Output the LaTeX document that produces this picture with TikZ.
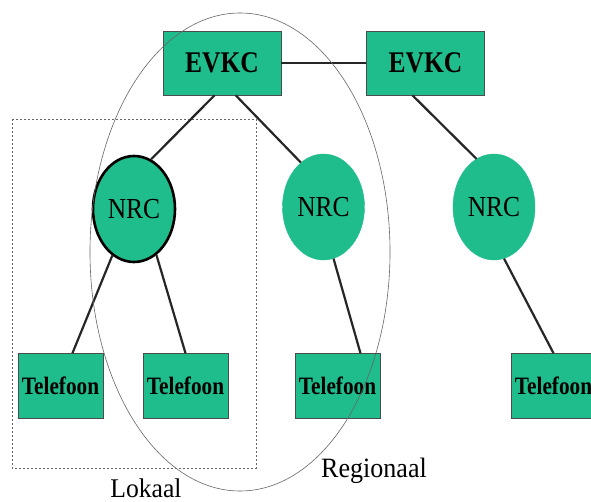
\documentclass[tikz,border=0pt]{standalone}
\usepackage{fontspec}
\setmainfont{Liberation Serif}
\usetikzlibrary{shapes.geometric}
\definecolor{nodegreen}{RGB}{32,189,140}
\newcommand{\smaltekst}[2]{\scalebox{#1}[1]{#2}}
\tikzset{
  centrale/.style={draw=black!70,line width=0.6pt,fill=nodegreen,minimum width=118pt,minimum height=64pt,inner sep=0pt,font=\fontsize{30}{30}\selectfont\bfseries},
  toestel/.style={draw=black!70,line width=0.6pt,fill=nodegreen,minimum width=85pt,minimum height=65pt,inner sep=0pt,font=\fontsize{25}{25}\selectfont\bfseries},
  nrc/.style={ellipse,draw=nodegreen,fill=nodegreen,minimum width=82pt,minimum height=106pt,inner sep=0pt,font=\fontsize{29}{29}\selectfont},
  verbinding/.style={line width=2.2pt,black!85},
  label/.style={font=\fontsize{28}{28}\selectfont,anchor=base}
}
\begin{document}
\begin{tikzpicture}[x=1pt,y=-1pt]
  \useasboundingbox[fill=white] (0,0) rectangle (591,502);
  \draw[black!60,dashed,dash pattern=on 2pt off 2pt,line width=0.6pt] (12,119) rectangle (256,468);
  \node[centrale] (e1) at (222,63) {\smaltekst{0.85}{EVKC}};
  \node[centrale] (e2) at (425.5,63) {\smaltekst{0.85}{EVKC}};
  \node[nrc,draw=black,line width=2.6pt] (n1) at (134,209) {\smaltekst{0.88}{NRC}};
  \node[nrc] (n2) at (323.5,207) {\smaltekst{0.88}{NRC}};
  \node[nrc] (n3) at (494,207) {\smaltekst{0.88}{NRC}};
  \node[toestel] (t1) at (60.5,386) {\smaltekst{0.85}{Telefoon}};
  \node[toestel] (t2) at (185.5,386) {\smaltekst{0.85}{Telefoon}};
  \node[toestel] (t3) at (337.5,386) {\smaltekst{0.85}{Telefoon}};
  \node[toestel] (t4) at (553.5,386) {\smaltekst{0.85}{Telefoon}};
  \draw[verbinding] (e1) -- (e2);
  \draw[verbinding] (e1.257.7) -- (n1.71);
  \draw[verbinding] (e1.293.6) -- (n2.117.6);
  \draw[verbinding] (e2.248.7) -- (n3.110);
  \draw[verbinding] (n1.245.8) -- (t1.70.8);
  \draw[verbinding] (n1.296) -- (t2.north);
  \draw[verbinding] (n2.281) -- (t3.55.7);
  \draw[verbinding] (n3.281.5) -- (t4.north);
  % regionaal gebied
  \node[ellipse,draw=black!60,line width=0.6pt,minimum width=300pt,minimum height=478pt,inner sep=0pt] (regio) at (240,252) {};
  \node[label] (regionaal) at (374,477) {\smaltekst{0.93}{Regionaal}};
  \node[label,font=\fontsize{27}{27}\selectfont] (lokaal) at (146,497) {\smaltekst{0.95}{Lokaal}};
\end{tikzpicture}
\end{document}
